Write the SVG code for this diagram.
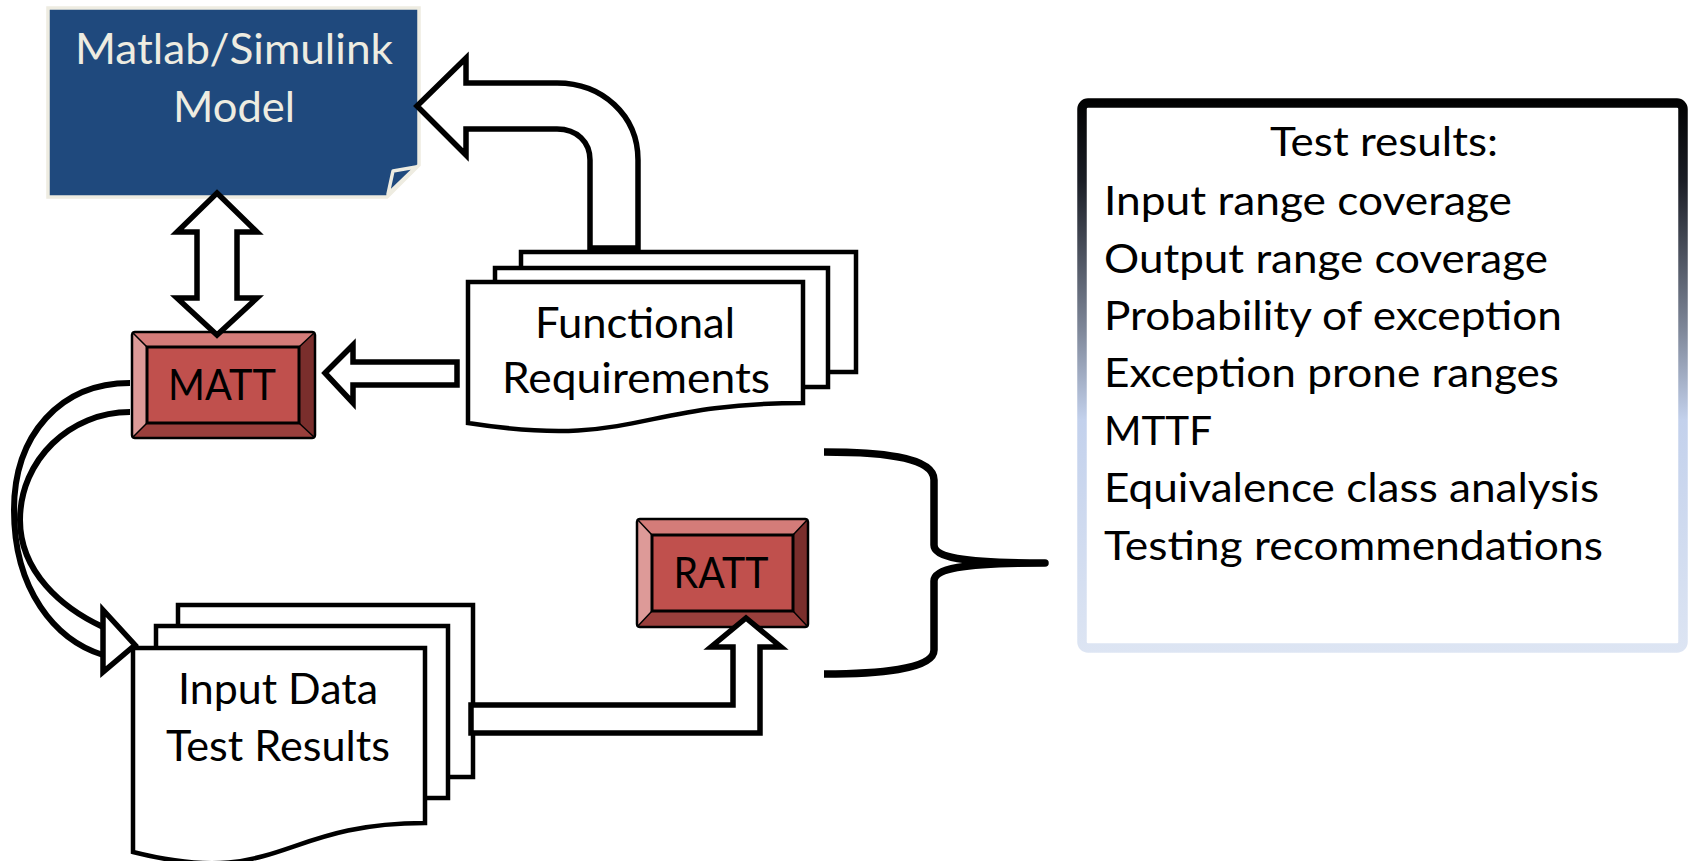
<svg xmlns="http://www.w3.org/2000/svg" width="1689" height="861" viewBox="0 0 1689 861">
  <defs>
    <linearGradient id="borderGrad" gradientUnits="userSpaceOnUse" x1="0" y1="98" x2="0" y2="653">
      <stop offset="0" stop-color="#000000"/>
      <stop offset="0.15" stop-color="#1b1e26"/>
      <stop offset="0.42" stop-color="#7f889a"/>
      <stop offset="0.58" stop-color="#c3d1ec"/>
      <stop offset="1" stop-color="#dde5f3"/>
    </linearGradient>
    <style>
      .txt { font-family: Lato, "Open Sans", "Liberation Sans", sans-serif; fill: #000; }
      .doc { fill: #fff; stroke: #000; stroke-width: 4.5; stroke-linejoin: miter; }
      .arrow { fill: #fff; stroke: #000; stroke-width: 5.5; stroke-linejoin: miter; }
      .curve { fill: none; stroke: #000; stroke-width: 6; }
      .bevTop { fill: #d47c79; }
      .bevLeft { fill: #dd9a98; }
      .bevRight { fill: #7a2e2c; }
      .bevBot { fill: #9a3f3c; }
      .bevLine { fill: none; stroke: #000; stroke-width: 1.5; }
      .face { fill: #c0504d; stroke: #000; stroke-width: 3; }
      .outer { fill: none; stroke: #000; stroke-width: 2.5; }
    </style>
  </defs>
  <rect width="1689" height="861" fill="#fff"/>

  <!-- Matlab/Simulink Model -->
  <g id="matlab">
    <path d="M48,8 H419 V165 L387,197 H48 Z" fill="#1f497d" stroke="#eeece1" stroke-width="3.5"/>
    <polygon points="416,167 393,171 388,194" fill="#1f497d" stroke="#eeece1" stroke-width="3.5" stroke-linejoin="round"/>
    <text class="txt" x="234" y="64" font-size="43" text-anchor="middle" textLength="318" lengthAdjust="spacingAndGlyphs" style="fill:#eeece1">Matlab/Simulink</text>
    <text class="txt" x="234" y="122" font-size="43" text-anchor="middle" textLength="122" lengthAdjust="spacingAndGlyphs" style="fill:#eeece1">Model</text>
  </g>

  <!-- MATT button -->
  <g id="matt">
    <polygon class="bevTop" points="132,332 315,332 299,347 147,347"/>
    <polygon class="bevLeft" points="132,332 147,347 147,423 132,438"/>
    <polygon class="bevRight" points="315,332 315,438 299,423 299,347"/>
    <polygon class="bevBot" points="132,438 315,438 299,423 147,423"/>
    <path class="bevLine" d="M132,332 L147,347 M315,332 L299,347 M132,438 L147,423 M315,438 L299,423"/>
    <rect class="face" x="147" y="347" width="152" height="76"/>
    <rect class="outer" x="132" y="332" width="183" height="106" rx="3"/>
    <text class="txt" x="222" y="400" font-size="42" text-anchor="middle" textLength="108" lengthAdjust="spacingAndGlyphs">MATT</text>
  </g>

  <!-- Functional Requirements -->
  <g id="funcreq">
    <rect class="doc" x="521" y="252" width="335" height="120"/>
    <rect class="doc" x="495" y="268" width="333" height="119"/>
    <path class="doc" d="M468,282 H803 V403 C635.5,403 635.5,449 468,423 Z"/>
    <text class="txt" x="635" y="338" font-size="42" text-anchor="middle" textLength="200" lengthAdjust="spacingAndGlyphs">Functional</text>
    <text class="txt" x="636" y="393" font-size="42" text-anchor="middle" textLength="268" lengthAdjust="spacingAndGlyphs">Requirements</text>
  </g>

  <!-- Input Data Test Results -->
  <g id="inputdata">
    <rect class="doc" x="178" y="605" width="295" height="172"/>
    <rect class="doc" x="156" y="626" width="292" height="172"/>
    <path class="doc" d="M133,648 H425 V823 C279,823 279,889 133,852 Z"/>
    <text class="txt" x="278" y="704" font-size="42" text-anchor="middle" textLength="200" lengthAdjust="spacingAndGlyphs">Input Data</text>
    <text class="txt" x="278" y="761" font-size="42" text-anchor="middle" textLength="224" lengthAdjust="spacingAndGlyphs">Test Results</text>
  </g>

  <!-- RATT button -->
  <g id="ratt">
    <polygon class="bevTop" points="637,519 808,519 793,535 652,535"/>
    <polygon class="bevLeft" points="637,519 652,535 652,611 637,627"/>
    <polygon class="bevRight" points="808,519 808,627 793,611 793,535"/>
    <polygon class="bevBot" points="637,627 808,627 793,611 652,611"/>
    <path class="bevLine" d="M637,519 L652,535 M808,519 L793,535 M637,627 L652,611 M808,627 L793,611"/>
    <rect class="face" x="652" y="535" width="141" height="76"/>
    <rect class="outer" x="637" y="519" width="171" height="108" rx="3"/>
    <text class="txt" x="721" y="588" font-size="42" text-anchor="middle" textLength="95" lengthAdjust="spacingAndGlyphs">RATT</text>
  </g>

  <!-- Test results box -->
  <g id="results">
    <rect x="1082" y="103" width="601" height="545" rx="6" fill="#fff" stroke="url(#borderGrad)" stroke-width="9.5"/>
    <text class="txt" x="1384" y="156" font-size="40" text-anchor="middle" textLength="228" lengthAdjust="spacingAndGlyphs">Test results:</text>
    <text class="txt" x="1104" y="215" font-size="40" textLength="408" lengthAdjust="spacingAndGlyphs">Input range coverage</text>
    <text class="txt" x="1104" y="273" font-size="40" textLength="444" lengthAdjust="spacingAndGlyphs">Output range coverage</text>
    <text class="txt" x="1104" y="330" font-size="40" textLength="458" lengthAdjust="spacingAndGlyphs">Probability of exception</text>
    <text class="txt" x="1104" y="387" font-size="40" textLength="455" lengthAdjust="spacingAndGlyphs">Exception prone ranges</text>
    <text class="txt" x="1104" y="445" font-size="40" textLength="108" lengthAdjust="spacingAndGlyphs">MTTF</text>
    <text class="txt" x="1104" y="502" font-size="40" textLength="495" lengthAdjust="spacingAndGlyphs">Equivalence class analysis</text>
    <text class="txt" x="1104" y="560" font-size="40" textLength="499" lengthAdjust="spacingAndGlyphs">Testing recommendations</text>
  </g>

  <!-- Connectors -->
  <g id="connectors">
    <!-- Matlab <-> MATT -->
    <polygon class="arrow" points="217,193 257,232 237,232 237,298 257,298 217,335 177,298 197,298 197,232 177,232"/>
    <!-- Functional Requirements -> Matlab (curved up-left) -->
    <path class="arrow" d="M417,106 L466,58 L466,83 L557,83 C602,83 638,115 638,160 L638,248 L590,248 L590,160 C590,142 577,129 557,129 L466,129 L466,155 Z"/>
    <!-- Functional Requirements -> MATT -->
    <polygon class="arrow" points="325,373 353,345 353,362 457,362 457,385 353,385 353,403"/>
    <!-- MATT -> Input Data (curved) -->
    <path class="curve" d="M130,383 C60,383 14,435 14,510 C14,590 55,640 103,655"/>
    <path class="curve" d="M130,412 C70,412 20,460 20,520 C20,572 62,608 103,627"/>
    <polygon class="arrow" points="103,627 103,610 135,645 103,672 103,655"/>
    <!-- Input Data -> RATT (elbow) -->
    <polygon class="arrow" points="471,705 733,705 733,647 711,647 746,618 781,647 760,647 760,733 471,733"/>
    <!-- Brace -->
    <path d="M824,452 C875,452 934,456 934,480 L934,545 C934,557 960,563 1045,563 C960,563 934,569 934,581 L934,650 C934,670 875,674 824,674" fill="none" stroke="#000" stroke-width="7.5" stroke-linejoin="round"/>
  </g>
</svg>
